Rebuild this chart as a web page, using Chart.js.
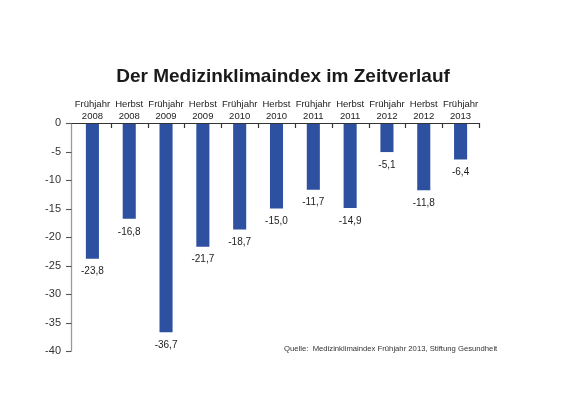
<!DOCTYPE html>
<html>
<head>
<meta charset="utf-8">
<script src="https://cdn.jsdelivr.net/npm/chart.js@4/dist/chart.umd.min.js"></script>
<style>
  html, body { margin: 0; padding: 0; background: #fff; }
  #wrap { width: 566px; height: 400px; }
</style>
</head>
<body>
<div id="wrap"><canvas id="c"></canvas></div>
<script>
const chartTitle = 'Der Medizinklimaindex im Zeitverlauf';
const sourceText = 'Quelle:  Medizinklimaindex Frühjahr 2013, Stiftung Gesundheit';
const seasons = ['Frühjahr','Herbst','Frühjahr','Herbst','Frühjahr','Herbst','Frühjahr','Herbst','Frühjahr','Herbst','Frühjahr'];
const years = ['2008','2008','2009','2009','2010','2010','2011','2011','2012','2012','2013'];
const indexValues = [-23.8, -16.8, -36.7, -21.7, -18.7, -15.0, -11.7, -14.9, -5.1, -11.8, -6.4];
const yMin = -40, yMax = 0, yStep = 5;

const labels = seasons.map((s, i) => [s, years[i]]);
const FONT = "'Liberation Sans', Arial, sans-serif";

const extras = {
  id: 'extras',
  afterDatasetsDraw(chart) {
    const ctx = chart.ctx;
    const xs = chart.scales.x, ys = chart.scales.y;
    const meta = chart.getDatasetMeta(0);
    ctx.save();
    // y axis line (set slightly left of the category area) and its tick marks
    const ax = Math.round(chart.chartArea.left - 3) + 0.5;
    ctx.strokeStyle = '#9a9a9a';
    ctx.lineWidth = 1.3;
    ctx.beginPath();
    ctx.moveTo(ax, ys.top);
    ctx.lineTo(ax, ys.bottom);
    ctx.stroke();
    ctx.strokeStyle = '#555';
    ctx.lineWidth = 1.1;
    ys.ticks.forEach((t) => {
      const y = Math.round(ys.getPixelForValue(t.value)) + 0.5;
      ctx.beginPath();
      ctx.moveTo(ax - 5.5, y);
      ctx.lineTo(ax, y);
      ctx.stroke();
    });
    // top axis line from y axis to the right end
    ctx.strokeStyle = '#333';
    ctx.lineWidth = 1.2;
    const y0 = Math.round(ys.getPixelForValue(0)) + 0.5;
    ctx.beginPath();
    ctx.moveTo(ax, y0);
    ctx.lineTo(xs.right, y0);
    ctx.stroke();
    // inward tick marks on top axis at category boundaries
    const n = xs.ticks.length;
    for (let i = 1; i <= n; i++) {
      let x;
      if (i < n) x = (xs.getPixelForTick(i - 1) + xs.getPixelForTick(i)) / 2;
      else x = xs.right;
      x = Math.round(x) + 0.5;
      ctx.beginPath();
      ctx.moveTo(x, xs.bottom);
      ctx.lineTo(x, xs.bottom + 5);
      ctx.stroke();
    }
    // value labels below bars
    ctx.fillStyle = '#222';
    ctx.font = '10px ' + FONT;
    ctx.textAlign = 'center';
    ctx.textBaseline = 'middle';
    meta.data.forEach((bar, i) => {
      const txt = indexValues[i].toFixed(1).replace('.', ',');
      ctx.fillText(txt, bar.x, bar.y + 13);
    });
    // title
    ctx.fillStyle = '#1a1a1a';
    ctx.font = 'bold 19px ' + FONT;
    ctx.textAlign = 'center';
    ctx.textBaseline = 'middle';
    ctx.fillText(chartTitle, 283, 77);
    // source
    ctx.fillStyle = '#333';
    ctx.font = '7.7px ' + FONT;
    ctx.textAlign = 'left';
    ctx.fillText(sourceText, 284, 349);
    ctx.restore();
  }
};

new Chart(document.getElementById('c'), {
  type: 'bar',
  data: {
    labels: labels,
    datasets: [{
      data: indexValues,
      backgroundColor: '#2d50a1',
      borderWidth: 0,
      barPercentage: 0.355,
      categoryPercentage: 1.0
    }]
  },
  options: {
    responsive: true,
    maintainAspectRatio: false,
    animation: false,
    devicePixelRatio: 1,
    layout: { padding: { top: 0, left: 0, right: 87, bottom: 49 } },
    plugins: {
      legend: { display: false },
      title: { display: false },
      tooltip: { enabled: false }
    },
    scales: {
      x: {
        position: 'top',
        afterFit(scale) { scale.height = 123; },
        grid: { display: false, drawTicks: false },
        border: { display: false },
        ticks: {
          color: '#222',
          font: { size: 9.5, family: FONT, lineHeight: 1.25 },
          padding: 1,
          maxRotation: 0,
          autoSkip: false
        }
      },
      y: {
        min: yMin,
        max: yMax,
        afterFit(scale) { scale.width = 74; },
        grid: { display: false, drawTicks: false },
        border: { display: false },
        ticks: {
          stepSize: yStep,
          color: '#333',
          font: { size: 11, family: FONT },
          padding: 13
        }
      }
    }
  },
  plugins: [extras]
});
</script>
</body>
</html>
